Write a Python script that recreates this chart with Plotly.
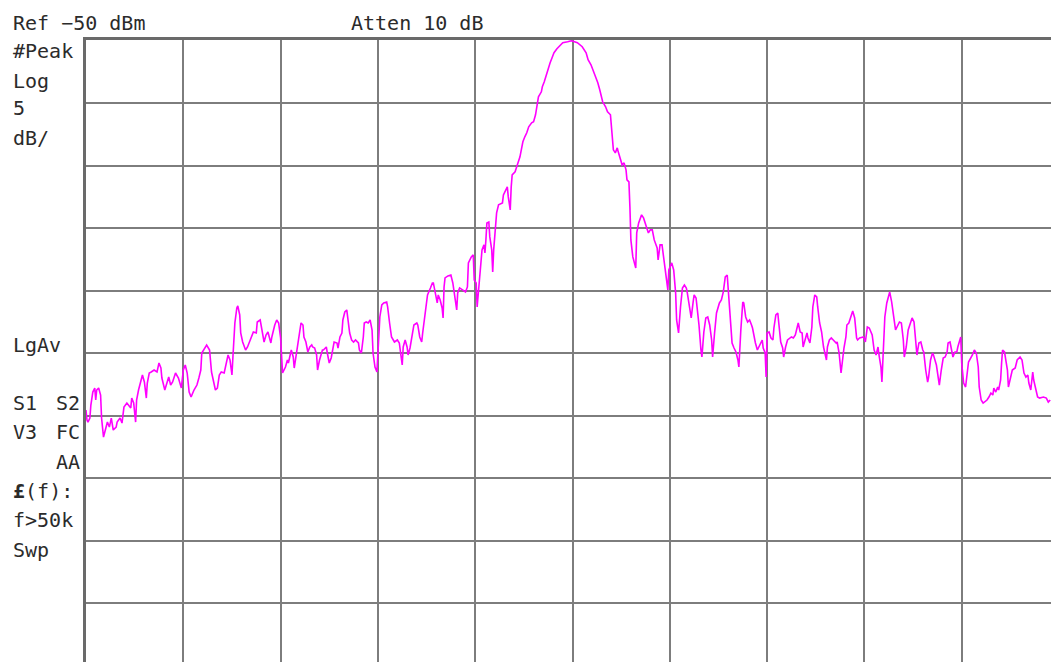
import plotly.graph_objects as go

# ---- Trace data: frequency position (graticule divisions, 0..10) and level (dBm) ----
freq_a = [0.00, 0.01, 0.02, 0.04, 0.05, 0.07, 0.09, 0.10, 0.11, 0.13,
          0.15, 0.16, 0.18, 0.22, 0.24, 0.26, 0.28, 0.31, 0.32, 0.35,
          0.37, 0.39, 0.42, 0.44, 0.46, 0.47, 0.49, 0.51, 0.52, 0.54,
          0.57, 0.58, 0.60, 0.62, 0.63, 0.65, 0.67, 0.70, 0.73, 0.75,
          0.77, 0.78, 0.81, 0.83, 0.85, 0.87, 0.89, 0.92, 0.95, 0.98,
          1.00, 1.02, 1.04, 1.06, 1.08, 1.11, 1.14, 1.16, 1.18, 1.19,
          1.22, 1.24, 1.27, 1.29, 1.33, 1.35, 1.37, 1.39, 1.42, 1.44,
          1.46, 1.48, 1.50, 1.51, 1.53, 1.55, 1.56, 1.58, 1.59, 1.61,
          1.64, 1.66, 1.70, 1.72, 1.75, 1.76, 1.79, 1.81, 1.83, 1.85,
          1.87, 1.90, 1.91, 1.94, 1.96, 1.98, 2.00, 2.02]
dbm_a = [-79.54, -80.34, -80.50, -80.18, -79.14, -78.10, -77.78, -78.74, -77.94, -77.78,
         -78.34, -80.18, -81.70, -80.50, -80.90, -80.18, -81.14, -80.90, -80.50, -80.18,
         -80.58, -79.30, -78.98, -79.14, -79.38, -78.58, -78.98, -80.50, -78.74, -77.94,
         -76.90, -76.74, -77.30, -78.58, -77.38, -76.58, -76.50, -76.34, -76.50, -75.78,
         -76.18, -76.98, -77.94, -77.30, -76.90, -77.54, -77.30, -76.58, -76.98, -77.78,
         -76.34, -75.94, -76.58, -78.10, -78.50, -77.94, -77.54, -76.98, -76.34, -74.98,
         -74.58, -74.34, -74.74, -76.50, -77.94, -77.78, -76.74, -76.50, -76.58, -75.78,
         -75.14, -75.54, -76.74, -75.30, -72.58, -71.38, -71.22, -71.94, -73.38, -74.10,
         -74.74, -74.50, -73.70, -73.30, -73.38, -72.50, -72.34, -73.38, -74.10, -73.54,
         -73.30, -74.18, -73.70, -72.74, -72.34, -72.58, -73.78, -76.58]

freq_b = [2.05, 2.07, 2.08, 2.11, 2.13, 2.14, 2.16, 2.18, 2.21, 2.23,
          2.24, 2.26, 2.28, 2.30, 2.32, 2.33, 2.35, 2.37, 2.38, 2.40,
          2.43, 2.44, 2.47, 2.48, 2.50, 2.52, 2.54, 2.55, 2.58, 2.59,
          2.61, 2.63, 2.64, 2.66, 2.68, 2.69, 2.71, 2.73, 2.75, 2.77,
          2.80, 2.81, 2.83, 2.85, 2.86, 2.88, 2.90, 2.92, 2.94, 2.95,
          2.97, 2.99, 3.00, 3.02, 3.04, 3.06, 3.09, 3.10, 3.12, 3.14,
          3.17, 3.20, 3.22, 3.24, 3.25, 3.26, 3.28, 3.30, 3.31, 3.33,
          3.35, 3.37, 3.40, 3.41, 3.43, 3.45, 3.46, 3.48, 3.50, 3.51,
          3.54, 3.56, 3.57, 3.59, 3.61, 3.62, 3.64, 3.66, 3.67, 3.68,
          3.69, 3.72, 3.75, 3.77, 3.79, 3.81, 3.82, 3.84, 3.87, 3.90,
          3.92]
dbm_b = [-76.10, -75.54, -75.78, -74.74, -75.30, -76.18, -75.14, -73.94, -72.58, -72.74,
         -73.70, -74.10, -74.90, -74.50, -74.34, -74.50, -74.58, -75.14, -76.34, -75.54,
         -74.74, -74.74, -74.50, -74.98, -75.78, -75.38, -74.58, -74.10, -74.18, -74.58,
         -73.70, -73.38, -72.34, -71.70, -71.54, -72.34, -73.38, -73.94, -74.10, -73.94,
         -74.18, -74.74, -74.98, -73.70, -72.58, -72.50, -72.58, -72.34, -73.14, -74.98,
         -76.10, -76.50, -74.74, -72.10, -71.14, -70.98, -70.90, -71.30, -72.58, -73.70,
         -74.10, -73.94, -74.18, -75.14, -75.94, -74.50, -73.94, -74.50, -75.14, -74.58,
         -73.78, -72.74, -72.58, -72.74, -73.70, -74.10, -73.38, -72.18, -70.98, -70.34,
         -69.78, -69.38, -69.38, -70.34, -70.98, -70.34, -70.74, -71.38, -72.18, -69.70,
         -68.98, -68.82, -68.74, -69.38, -70.50, -71.54, -70.18, -69.78, -69.94, -70.10,
         -69.70]

freq_c = [3.93, 3.96, 3.98, 3.99, 4.01, 4.02, 4.04, 4.06, 4.07, 4.09,
          4.10, 4.11, 4.12, 4.14, 4.15, 4.17, 4.18, 4.19, 4.21, 4.22,
          4.24, 4.28, 4.29, 4.31, 4.33, 4.34, 4.36, 4.37, 4.38, 4.41,
          4.43, 4.44, 4.46, 4.48, 4.49, 4.51, 4.53, 4.55, 4.58, 4.60,
          4.62, 4.64, 4.65, 4.68, 4.69, 4.71, 4.73, 4.75, 4.77, 4.79,
          4.81, 4.84, 4.86]
dbm_c = [-67.78, -67.30, -67.14, -69.14, -69.38, -71.30, -69.70, -67.54, -66.74, -66.34,
         -66.98, -65.94, -64.58, -64.50, -65.70, -66.74, -68.50, -66.74, -64.90, -63.78,
         -63.14, -62.98, -62.34, -61.94, -61.70, -62.50, -63.54, -61.70, -60.74, -60.50,
         -60.10, -59.78, -59.30, -58.58, -58.10, -57.70, -57.38, -56.90, -56.58, -56.50,
         -55.94, -54.98, -54.50, -54.10, -53.70, -53.30, -52.74, -52.18, -51.78, -51.38,
         -50.98, -50.66, -50.50]

freq_d = [4.87, 4.90, 4.95, 4.99, 5.05, 5.10, 5.14, 5.16, 5.19, 5.21,
          5.24, 5.26, 5.28, 5.30, 5.31, 5.34, 5.36, 5.39, 5.40, 5.41,
          5.42, 5.44, 5.46, 5.47, 5.49, 5.51, 5.53, 5.55, 5.56, 5.58,
          5.59, 5.60, 5.62, 5.63, 5.65, 5.66, 5.68, 5.71, 5.73, 5.76,
          5.78, 5.80, 5.82, 5.84, 5.87, 5.88, 5.90, 5.92, 5.93, 5.95,
          5.97, 5.98, 5.99, 6.02, 6.04, 6.06, 6.07, 6.09]
dbm_d = [-50.34, -50.18, -50.10, -50.02, -50.18, -50.50, -50.98, -51.54, -51.94, -52.34,
         -52.98, -53.38, -53.94, -54.50, -54.90, -55.30, -55.70, -55.94, -56.90, -57.94,
         -58.74, -58.98, -58.58, -58.90, -59.38, -59.94, -59.78, -60.34, -61.14, -61.30,
         -63.30, -65.94, -67.30, -67.54, -68.18, -65.38, -64.58, -63.94, -64.18, -64.90,
         -65.38, -65.14, -65.14, -65.94, -66.58, -67.54, -66.34, -66.34, -66.98, -67.78,
         -69.14, -69.94, -68.34, -67.78, -68.34, -70.18, -72.34, -73.38]

freq_e = [6.11, 6.13, 6.15, 6.17, 6.18, 6.20, 6.22, 6.24, 6.25, 6.27,
          6.29, 6.30, 6.32, 6.33, 6.35, 6.37, 6.39, 6.41, 6.43, 6.44,
          6.46, 6.48, 6.51, 6.53, 6.55, 6.57, 6.59, 6.60, 6.62, 6.64,
          6.66, 6.68, 6.70, 6.71, 6.73, 6.75, 6.76, 6.78, 6.80, 6.82,
          6.84, 6.85, 6.88, 6.90, 6.91, 6.93, 6.95, 6.96, 6.98, 6.99,
          7.00, 7.02, 7.04, 7.06, 7.07, 7.09, 7.11, 7.12, 7.14, 7.16,
          7.17, 7.19, 7.21, 7.25, 7.27, 7.29, 7.31, 7.32, 7.34, 7.36,
          7.37, 7.39, 7.41, 7.42, 7.44, 7.46, 7.47, 7.49, 7.51, 7.52,
          7.54, 7.56, 7.58, 7.61, 7.62, 7.64, 7.66, 7.68, 7.71, 7.72,
          7.74, 7.76, 7.77, 7.79, 7.81, 7.82, 7.84, 7.87, 7.88, 7.90,
          7.92, 7.93]
dbm_e = [-71.30, -69.78, -69.54, -69.78, -70.18, -71.30, -72.18, -70.90, -70.34, -70.58,
         -71.78, -72.74, -74.74, -75.30, -73.30, -72.18, -72.10, -72.74, -73.94, -75.30,
         -73.38, -71.78, -70.98, -70.74, -70.10, -68.90, -68.74, -69.70, -72.34, -74.18,
         -74.58, -74.90, -75.54, -76.10, -73.14, -70.90, -70.98, -72.10, -72.50, -72.34,
         -72.74, -72.98, -74.18, -74.74, -74.58, -74.18, -73.94, -74.58, -74.98, -76.90,
         -73.38, -73.30, -73.78, -73.94, -72.98, -71.94, -71.78, -72.58, -74.10, -74.58,
         -75.30, -74.50, -73.94, -73.70, -73.78, -73.54, -72.74, -72.58, -73.30, -73.38,
         -74.50, -73.94, -73.38, -73.78, -74.18, -72.90, -71.30, -70.34, -70.50, -71.30,
         -72.58, -73.30, -74.50, -75.54, -74.50, -73.94, -73.78, -73.94, -74.18, -74.10,
         -74.98, -76.58, -75.78, -74.58, -73.70, -72.74, -72.58, -71.94, -71.62, -72.18,
         -73.78, -73.94]

freq_f = [7.95, 7.99, 8.01, 8.03, 8.05, 8.08, 8.10, 8.12, 8.14, 8.15,
          8.17, 8.18, 8.19, 8.21, 8.23, 8.25, 8.26, 8.28, 8.30, 8.32,
          8.33, 8.36, 8.38, 8.40, 8.41, 8.43, 8.45, 8.47, 8.49, 8.51,
          8.53, 8.54, 8.56, 8.58, 8.60, 8.61, 8.63, 8.65, 8.66, 8.68,
          8.70, 8.71, 8.74, 8.76, 8.77, 8.79, 8.81, 8.83, 8.85, 8.86,
          8.88, 8.90, 8.91, 8.93, 8.95, 8.96, 8.98, 8.99, 9.00, 9.02,
          9.04, 9.06, 9.07, 9.11, 9.13, 9.15, 9.17, 9.18, 9.20, 9.22,
          9.26, 9.28, 9.30, 9.32, 9.33, 9.35, 9.37, 9.38, 9.40, 9.41,
          9.42, 9.44, 9.47, 9.48, 9.50, 9.52, 9.55, 9.57, 9.60, 9.62,
          9.64, 9.66, 9.68, 9.69, 9.71, 9.73, 9.74, 9.76, 9.78, 9.80,
          9.84, 9.87, 9.89, 9.91]
dbm_f = [-73.78, -73.70, -74.10, -72.90, -72.98, -73.54, -74.74, -75.14, -74.50, -75.14,
         -76.10, -77.30, -75.30, -72.10, -70.98, -70.34, -70.10, -70.90, -72.10, -73.14,
         -72.98, -72.50, -72.58, -73.94, -75.30, -74.50, -73.14, -72.58, -72.18, -72.50,
         -74.18, -75.14, -74.18, -74.10, -74.74, -74.90, -76.34, -77.30, -76.90, -75.54,
         -74.98, -75.14, -75.94, -76.90, -77.54, -76.34, -75.38, -75.30, -74.90, -74.18,
         -74.10, -74.90, -75.30, -74.90, -74.90, -74.50, -73.78, -73.70, -75.78, -77.38,
         -77.70, -76.34, -75.70, -75.14, -74.74, -74.98, -76.10, -77.70, -78.74, -78.98,
         -78.74, -78.50, -78.18, -78.34, -77.78, -78.10, -77.70, -77.94, -77.14, -75.78,
         -74.74, -74.90, -76.34, -77.70, -76.90, -76.34, -76.18, -75.54, -75.30, -75.54,
         -76.58, -76.90, -76.74, -77.38, -77.94, -76.50, -77.14, -77.94, -78.50, -78.58,
         -78.50, -78.58, -78.90, -78.74]

freq_div = freq_a + freq_b + freq_c + freq_d + freq_e + freq_f
level_dbm = dbm_a + dbm_b + dbm_c + dbm_d + dbm_e + dbm_f
assert len(freq_div) == len(level_dbm)

# ---- Instrument settings ----
REF_LEVEL = -50      # dBm at top graticule line
DB_PER_DIV = 5
N_DIV = 10

# ---- Layout geometry ----
W, H = 1051, 662
L, T = 86, 40
PLOT_W, PLOT_H = W - L, H - T
X_DIV_PX = 97.3
Y_DIV_PX = 62.55
x_max = PLOT_W / X_DIV_PX
y_top = REF_LEVEL + 0.5 / Y_DIV_PX * DB_PER_DIV
y_bot = y_top - PLOT_H / Y_DIV_PX * DB_PER_DIV

GRID = "#7d7d7d"
FRAME = "#6a6a6a"
TXT = "#2b2b2b"
FONT = "DejaVu Sans Mono"

fig = go.Figure(go.Scatter(
    x=freq_div, y=level_dbm, mode="lines",
    line=dict(color="#ff00ff", width=1.6),
    hoverinfo="skip", showlegend=False,
))

axis_common = dict(
    showgrid=True, gridcolor=GRID, gridwidth=2,
    showline=True, linecolor=FRAME, linewidth=3,
    zeroline=False, showticklabels=False, ticks="", fixedrange=True,
)
fig.update_xaxes(range=[0, x_max], dtick=1, tick0=0, side="top", **axis_common)
fig.update_yaxes(range=[y_bot, y_top], dtick=DB_PER_DIV, tick0=REF_LEVEL, **axis_common)


def label(text, px, py, anchor="left"):
    # px, py: position in figure pixels
    fig.add_annotation(
        text=text, xref="paper", yref="paper",
        x=(px - L) / PLOT_W, y=(H - py) / PLOT_H,
        xanchor=anchor, yanchor="middle", showarrow=False,
        font=dict(family=FONT, size=20, color=TXT),
    )


label("Ref \u221250 dBm", 11, 23)
label("Atten 10 dB", 349, 23)
label("#Peak", 11, 51)
label("Log", 11, 81)
label("5", 11, 108)
label("dB/", 11, 138)
label("LgAv", 11, 345)
label("S1", 11, 403)
label("S2", 54, 403)
label("V3", 11, 432)
label("FC", 54, 432)
label("AA", 54, 462)
label("<b>\u00a3</b>(f):", 11, 491)
label("f>50k", 11, 520)
label("Swp", 11, 550)

fig.update_layout(
    width=W, height=H,
    margin=dict(l=L, r=0, t=T, b=0, pad=0, autoexpand=False),
    paper_bgcolor="white", plot_bgcolor="white",
    showlegend=False,
)

fig.write_html(
    "out.html",
    config={"displayModeBar": False, "staticPlot": True},
    post_script="document.body.style.margin='0';document.body.style.overflow='hidden';",
)
